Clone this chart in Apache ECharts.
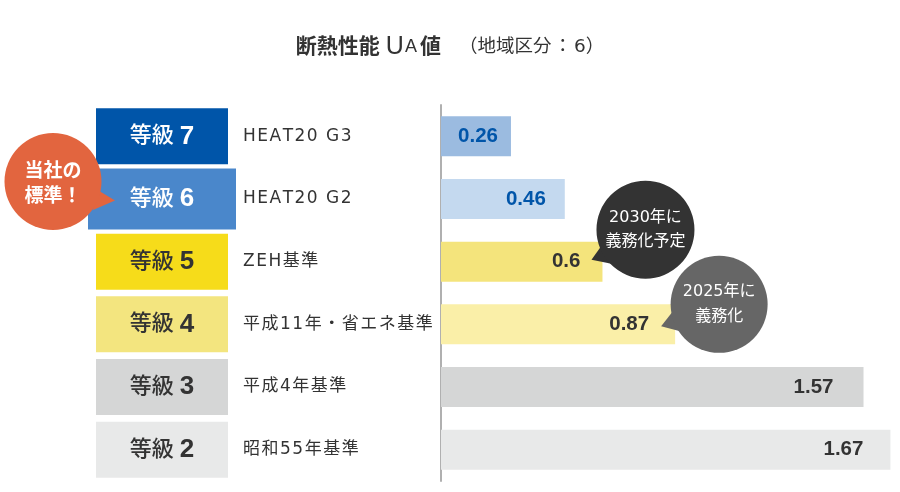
<!DOCTYPE html>
<html><head><meta charset="utf-8">
<script src="https://cdn.jsdelivr.net/npm/echarts@6/dist/echarts.min.js"></script>
<style>html,body{margin:0;padding:0;background:#fff}#c{width:900px;height:492px}</style>
</head><body><div id="c"></div>
<script>
// ---- data ----
const grades = ['等級 7', '等級 6', '等級 5', '等級 4', '等級 3', '等級 2'];
const standards = ['HEAT20 G3', 'HEAT20 G2', 'ZEH基準', '平成11年・省エネ基準', '平成4年基準', '昭和55年基準'];
const uaValues = [0.26, 0.46, 0.6, 0.87, 1.57, 1.67];
const titleMain = '断熱性能';
const titleUA = ['U', 'A', '値'];
const titleSub = ['（地域区分', '：', '6）'];
const ownStandardNote = '当社の\n標準！';
const note2030 = '2030年に\n義務化予定';
const note2025 = '2025年に\n義務化';

// ---- styles ----
const FF = "'Liberation Sans', 'Noto Sans CJK JP', sans-serif";
const FW = "'DejaVu Sans', 'Noto Sans CJK JP', sans-serif";
const boxBg = ['#0055a9', '#4a87cb', '#f6dc1a', '#f3e57f', '#d5d6d6', '#e8e9e9'];
const boxFg = ['#ffffff', '#ffffff', '#333333', '#333333', '#333333', '#333333'];
const barColors = ['#9bbbe0', '#c4d9ef', '#f4e47c', '#faefa8', '#d5d6d6', '#e8e9e9'];
const valueColors = ['#0055a9', '#0055a9', '#333333', '#333333', '#333333', '#333333'];
const valueDist = [13, 19, 22, 26, 30, 27];

const chart = echarts.init(document.getElementById('c'), null, {renderer: 'canvas'});

const option = {
  animation: false,
  backgroundColor: '#ffffff',
  title: {
    text: '{a|' + titleMain + '}{u|' + titleUA[0] + '}{s|' + titleUA[1] + '}{a|' + titleUA[2] + '}' +
          '{b0|' + titleSub[0] + '}{c|' + titleSub[1] + '}{b|' + titleSub[2] + '}',
    left: 'center',
    top: 27,
    textStyle: {
      fontFamily: FF,
      rich: {
        a: {fontSize: 21, fontWeight: 'bold', color: '#333', fontFamily: FF, lineHeight: 30},
        u: {fontSize: 25, fontWeight: 'normal', color: '#333', fontFamily: FF, lineHeight: 30, padding: [0, 0, 0, 6]},
        s: {fontSize: 18, fontWeight: 'normal', color: '#333', fontFamily: FF, lineHeight: 30, padding: [0, 3, 0, 1]},
        b0: {fontSize: 18.5, fontWeight: 'normal', color: '#333', fontFamily: FW, lineHeight: 30, padding: [0, 0, 0, 18]},
        c: {fontSize: 18.5, fontWeight: 'normal', color: '#333', fontFamily: FW, lineHeight: 30, padding: [0, 2, 0, 2]},
        b: {fontSize: 18.5, fontWeight: 'normal', color: '#333', fontFamily: FW, lineHeight: 30}
      }
    }
  },
  grid: {left: 441, right: 1.5, top: 105, bottom: 11, containLabel: false},
  xAxis: {type: 'value', min: 0, max: 1.7, show: false},
  yAxis: [
    {
      type: 'category',
      inverse: true,
      data: grades.map((g, i) => ({
        value: g,
        textStyle: {
          align: 'center',
          verticalAlign: 'middle',
          backgroundColor: boxBg[i],
          color: boxFg[i],
          width: i === 1 ? 148 : 132,
          padding: i === 1 ? [15.5, 0, 15.5, 0] : [13, 0, 13, 0]
        }
      })),
      axisLine: {show: true, lineStyle: {color: '#b0b0b0', width: 2}},
      axisTick: {show: false},
      splitLine: {show: false},
      axisLabel: {
        interval: 0,
        align: 'center',
        margin: 279,
        fontFamily: FF,
        fontSize: 21,
        formatter: v => {
          const parts = v.split(' ');
          return '{w|' + parts[0] + '} {n|' + parts[1] + '}';
        },
        rich: {
          w: {fontSize: 22, fontWeight: 500, fontFamily: FF, lineHeight: 30},
          n: {fontSize: 26, fontWeight: 'bold', fontFamily: FF, lineHeight: 30}
        }
      }
    },
    {
      type: 'category',
      inverse: true,
      position: 'left',
      data: standards,
      axisLine: {show: false},
      axisTick: {show: false},
      splitLine: {show: false},
      axisLabel: {
        interval: 0,
        align: 'left',
        margin: 198,
        fontFamily: FW,
        fontSize: 17,
        color: '#333',
        formatter: v => v.split('').map(ch => '{c|' + ch + '}').join(''),
        rich: {
          c: {fontFamily: FW, fontSize: 17, color: '#333', padding: [0, 1.5, 0, 0]}
        }
      }
    }
  ],
  series: [{
    type: 'bar',
    yAxisIndex: 0,
    barWidth: 40,
    data: uaValues.map((v, i) => ({
      value: v,
      itemStyle: {color: barColors[i]},
      label: {color: valueColors[i], distance: valueDist[i]}
    })),
    label: {
      show: true,
      position: 'insideRight',
      fontFamily: FF,
      fontSize: 20.5,
      fontWeight: 'bold'
    }
  }]
};
chart.setOption(option);

// ---- callouts anchored through the chart's own coordinate system ----
function bubble(cx, cy, r, color, tail, text, font, lh, textDy) {
  return {
    type: 'group',
    children: [
      {type: 'polygon', shape: {points: tail}, style: {fill: color}, z: 10},
      {type: 'circle', shape: {cx: cx, cy: cy, r: r}, style: {fill: color}, z: 10},
      {type: 'text', z: 11, style: {
        text: text, x: cx, y: cy + (textDy || 0), align: 'center', verticalAlign: 'middle',
        fill: '#fff', font: font, lineHeight: lh
      }}
    ]
  };
}
const pA = chart.convertToPixel({seriesIndex: 0}, [uaValues[2], grades[2]]);
const pB = chart.convertToPixel({seriesIndex: 0}, [uaValues[3], grades[3]]);
const pO = chart.convertToPixel({seriesIndex: 0}, [0, grades[1]]);
const oy = pO[1];
chart.setOption({
  graphic: [
    bubble(53, oy - 17.5, 48.5, '#e2653f',
      [[115, oy + 1.5], [96, oy - 10], [93, oy + 11]],
      ownStandardNote, 'bold 19px ' + FF, 25, 3),
    bubble(pA[0] + 43, pA[1] - 32, 49, '#333333',
      [[pA[0] - 11, pA[1] - 2], [pA[0] - 1, pA[1] - 16], [pA[0] + 9, pA[1] + 2]],
      note2030, '16px ' + FW, 24, 0),
    bubble(pB[0] + 44, pB[1] - 20, 48.5, '#666666',
      [[pB[0] - 14, pB[1] + 2], [pB[0] - 3, pB[1] - 12], [pB[0] + 5, pB[1] + 7]],
      note2025, '16px ' + FW, 25, 0)
  ]
});
</script>
</body></html>
